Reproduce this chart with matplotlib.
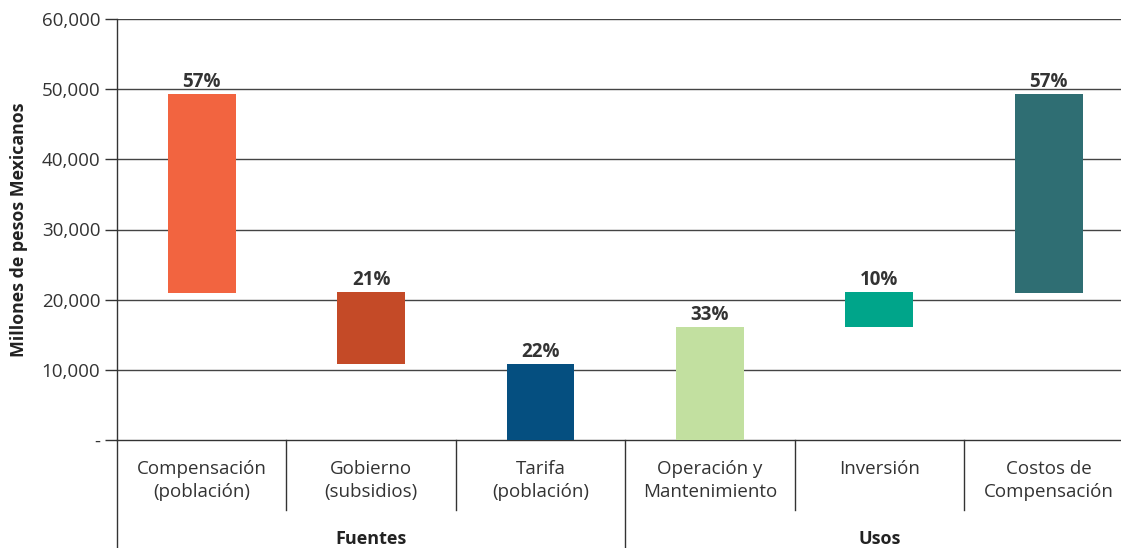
import matplotlib
matplotlib.use("Agg")
import matplotlib.pyplot as plt
from matplotlib.ticker import FuncFormatter

plt.rcParams['font.family'] = ['Open Sans', 'DejaVu Sans']

categories = ["Compensación\n(población)", "Gobierno\n(subsidios)", "Tarifa\n(población)",
              "Operación y\nMantenimiento", "Inversión", "Costos de\nCompensación"]
bottoms = [21000, 10800, 0, 0, 16100, 21000]
tops = [49300, 21100, 10800, 16100, 21100, 49300]
pct_labels = ["57%", "21%", "22%", "33%", "10%", "57%"]
colors = ["#F26440", "#C44A27", "#054F80", "#C2E0A0", "#00A58A", "#2F6E73"]
groups = ["Fuentes", "Usos"]
group_sizes = [3, 3]
yticks = [0, 10000, 20000, 30000, 40000, 50000, 60000]

fig = plt.figure(figsize=(11.21, 5.48), dpi=100)
ax = fig.add_axes([117/1121, 1-440/548, 6*169.4/1121, 421/548])

x = list(range(len(categories)))
heights = [t - b for t, b in zip(tops, bottoms)]
ax.bar(x, heights, bottom=bottoms, width=0.40, color=colors, zorder=3)
for xi, t, lab in zip(x, tops, pct_labels):
    ax.annotate(lab, (xi, t), xytext=(0, 1.5), textcoords='offset points',
                ha='center', va='bottom', fontsize=13.5, fontweight='bold', color='#333333')

ax.set_xlim(-0.5, len(categories) - 0.5)
ax.set_ylim(0, 60000)
ax.set_yticks(yticks)
ax.yaxis.set_major_formatter(FuncFormatter(lambda v, p: "-" if v == 0 else f"{int(v):,}"))
ax.tick_params(axis='y', length=9, width=1, color='#333333', labelsize=13.5, labelcolor='#333333', pad=3)
ax.set_xticks([])
for v in yticks[1:]:
    ax.axhline(v, color='#444444', lw=1, zorder=1)
for s in ['top', 'right']:
    ax.spines[s].set_visible(False)
ax.spines['bottom'].set_color('#333333')
ax.spines['left'].set_color('#333333')
ax.spines['bottom'].set_linewidth(1)
ax.spines['left'].set_linewidth(1)

ax.set_ylabel("Millones de pesos Mexicanos", fontsize=12.8, fontweight='bold', color='#222222', labelpad=10)

def ay(px):
    return -(px - 440) / 421
tr = ax.get_xaxis_transform()
for xi, lab in zip(x, categories):
    ax.text(xi, ay(460), lab, ha='center', va='top', fontsize=13.5, color='#333333',
            linespacing=1.38, transform=tr)
ax.plot([-0.5, -0.5], [0, ay(548)], color='#333333', lw=1, transform=tr, clip_on=False)
idx = 0
for gi, (g, n) in enumerate(zip(groups, group_sizes)):
    for k in range(1, n):
        xs = idx + k - 0.5
        ax.plot([xs, xs], [0, ay(510)], color='#333333', lw=1, transform=tr, clip_on=False)
    end = idx + n - 0.5
    if gi < len(groups) - 1:
        ax.plot([end, end], [0, ay(548)], color='#333333', lw=1, transform=tr, clip_on=False)
    ax.text((idx - 0.5 + end) / 2, ay(539), g, ha='center', va='center', fontsize=13,
            fontweight='bold', color='#222222', transform=tr)
    idx += n

fig.savefig("out.png", dpi=100)
